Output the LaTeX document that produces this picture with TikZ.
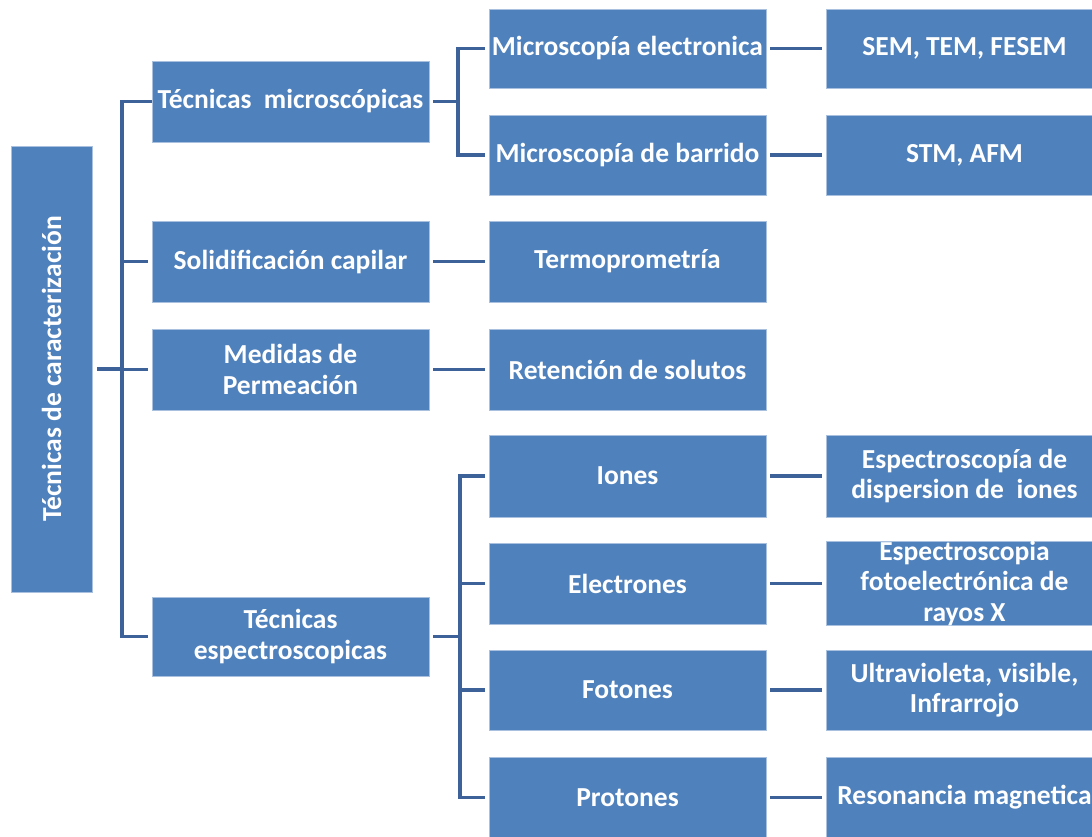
\documentclass[tikz,border=0pt]{standalone}
\usepackage{fontspec}
\setmainfont{Carlito}
\definecolor{boxblue}{HTML}{4F81BD}
\definecolor{boxedge}{HTML}{A9C0DE}
\definecolor{linkblue}{HTML}{3D629A}
\begin{document}
\begin{tikzpicture}[x=1pt,y=-1pt,
  box/.style={rectangle, fill=boxblue, draw=boxedge, line width=0.8pt,
    minimum width=277pt, minimum height=80pt, inner sep=0pt,
    text=white, align=center, font=\fontsize{27.5}{30.5}\selectfont\bfseries},
  conn/.style={draw=linkblue, line width=3.4pt, line join=miter},
  gapst/.style={shorten <=4pt},
  gapen/.style={shorten >=4pt}]
\clip (0,0) rectangle (1092,837);
\fill[white] (0,0) rectangle (1092,837);
% root
\node[box, minimum width=81pt, minimum height=446pt] (root) at (51.5,369) {};
\node[rotate=90, text=white, font=\fontsize{27.5}{30.5}\selectfont\bfseries] (roottxt) at (root.center) {Técnicas de caracterización};
% level 1
\node[box, minimum height=81pt] (tm) at (290.5,101.5) {Técnicas\ \ microscópicas};
\node[box, minimum height=81pt] (sc) at (290.5,261.5) {Solidificación capilar};
\node[box, minimum height=81pt] (mp) at (290.5,369.5) {Medidas de\\Permeación};
\node[box, minimum height=79pt] (te) at (290.5,636.5) {Técnicas\\espectroscopicas};
% level 2
\node[box, minimum height=79pt] (me) at (627.5,48.5) {Microscopía electronica};
\node[box] (mb) at (627.5,155) {Microscopía de barrido};
\node[box, minimum height=81pt] (tp) at (627.5,261.5) {Termoprometría};
\node[box, minimum height=81pt] (rs) at (627.5,369.5) {Retención de solutos};
\node[box, minimum height=82pt] (io) at (627.5,476) {Iones};
\node[box, minimum height=81pt] (el) at (627.5,583.5) {Electrones};
\node[box] (fo) at (627.5,690) {Fotones};
\node[box, minimum height=81pt] (pr) at (627.5,797.5) {Protones};
% level 3
\node[box, minimum height=79pt] (sem) at (964.5,48.5) {SEM, TEM, FESEM};
\node[box] (stm) at (964.5,155) {STM, AFM};
\node[box, minimum height=82pt] (edi) at (964.5,476) {Espectroscopía de\\dispersion de\ \ iones};
\node[box, minimum height=81pt] (xps) at (964.5,583.5) {Espectroscopia\\fotoelectrónica de\\rayos X};
\node[box] (uv) at (964.5,690) {Ultravioleta, visible,\\Infrarrojo};
\node[box, minimum height=81pt] (rm) at (964.5,797.5) {Resonancia magnetica};
% bus coordinates
\coordinate (b1) at (122,369);
\coordinate (b2) at (458,101.5);
\coordinate (b3) at (460,636.5);
% root connectors
\draw[conn, shorten <=5pt] (root.east) -- (b1);
\draw[conn, shorten >=4pt] (tm.west) -- (b1 |- tm.west) -- (b1 |- te.west) -- (te.west);
\draw[conn, shorten <=-1.7pt, shorten >=4pt] (b1 |- tm.west) -- (tm.west);
\draw[conn, shorten >=4pt] (b1 |- sc.west) -- (sc.west);
\draw[conn, shorten >=4pt] (b1 |- mp.west) -- (mp.west);
\draw[conn, shorten <=-1.7pt, shorten >=4pt] (b1 |- te.west) -- (te.west);
% microscopic branch
\draw[conn, shorten <=4pt] (tm.east) -- (b2);
\draw[conn, shorten <=-1.7pt, shorten >=4pt] (b2 |- me.west) -- (me.west);
\draw[conn, shorten <=-1.7pt, shorten >=4pt] (b2 |- mb.west) -- (mb.west);
\draw[conn] (b2 |- me.west) -- (b2 |- mb.west);
% simple links
\draw[conn, gapst, gapen] (sc.east) -- (tp.west);
\draw[conn, gapst, gapen] (mp.east) -- (rs.west);
\draw[conn, gapst, gapen] (me.east) -- (sem.west);
\draw[conn, gapst, gapen] (mb.east) -- (stm.west);
% spectroscopic branch
\draw[conn, shorten <=4pt] (te.east) -- (b3);
\draw[conn] (b3 |- io.west) -- (b3 |- pr.west);
\draw[conn, shorten <=-1.7pt, shorten >=4pt] (b3 |- io.west) -- (io.west);
\draw[conn, shorten >=4pt] (b3 |- el.west) -- (el.west);
\draw[conn, shorten >=4pt] (b3 |- fo.west) -- (fo.west);
\draw[conn, shorten <=-1.7pt, shorten >=4pt] (b3 |- pr.west) -- (pr.west);
\draw[conn, gapst, gapen] (io.east) -- (edi.west);
\draw[conn, gapst, gapen] (el.east) -- (xps.west);
\draw[conn, gapst, gapen] (fo.east) -- (uv.west);
\draw[conn, gapst, gapen] (pr.east) -- (rm.west);
\end{tikzpicture}
\end{document}
